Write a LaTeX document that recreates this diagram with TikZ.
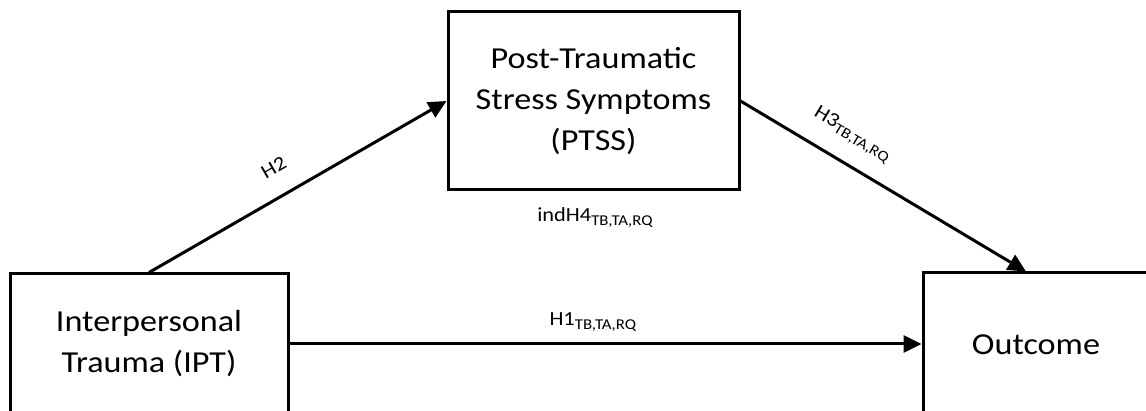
\documentclass[tikz,border=0pt]{standalone}
\usepackage{fontspec}
\setmainfont{Carlito}[FakeStretch=1.12]
\usetikzlibrary{arrows.meta,calc}
% lowered small text used for the hypothesis indices
\newcommand\hsub[1]{\raisebox{-4pt}{\fontsize{15}{15}\selectfont #1}}
\begin{document}
\begin{tikzpicture}[x=1pt,y=1pt,
  box/.style={draw=black, line width=3pt, align=center, inner sep=0pt,
    font=\fontsize{30.5}{41}\selectfont},
  link/.style={line width=3pt, -{Triangle[length=18pt,width=17pt]}},
  lab/.style={font=\fontsize{20}{24}\selectfont, inner sep=0pt}]
\useasboundingbox (0,0) rectangle (1146,411);

% variables
\node[box, minimum width=278pt, minimum height=140pt] (ipt) at (149,67)
  {Interpersonal\\Trauma (IPT)};
\node[box, minimum width=291pt, minimum height=178pt] (ptss) at (593.5,310)
  {Post-Traumatic\\Stress Symptoms\\(PTSS)};
\node[box, minimum width=226pt, minimum height=144pt] (out) at (1036,66)
  {Outcome};

% paths
\draw[link] (ipt.north) --
  node[lab, sloped, anchor=base, pos=0.467, yshift=22pt] (h2) {H2}
  (ptss.west);
\draw[link] (ptss.east) --
  node[lab, sloped, anchor=base, pos=0.34, yshift=25pt] (h3) {H3\hsub{TB,TA,RQ}}
  ($(out.north)+(-10,0)$);
\draw[link] (ipt.east) --
  node[lab, anchor=base, pos=0.48, yshift=18pt] (h1) {H1\hsub{TB,TA,RQ}}
  (ipt.east -| out.west);

% indirect effect
\node[lab, anchor=base] (ind) at (595,189) {indH4\hsub{TB,TA,RQ}};
\end{tikzpicture}
\end{document}
